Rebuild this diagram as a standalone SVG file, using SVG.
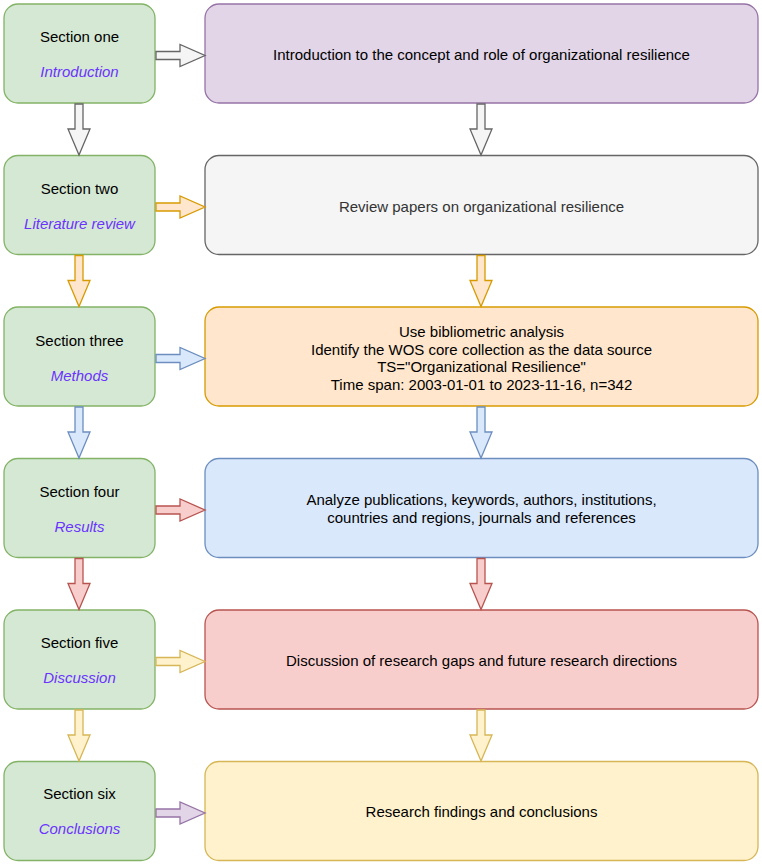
<svg xmlns="http://www.w3.org/2000/svg" width="762" height="864" viewBox="0 0 762 864">
<style>
text{font-family:"Liberation Sans",Arial,Helvetica,sans-serif;font-size:15px;text-anchor:middle;dominant-baseline:central;fill:#000}
.it{font-style:italic;fill:#6a33ff}
.box{stroke-width:1.3}
.g{fill:#d5e8d4;stroke:#82b366}
.pu{fill:#e1d5e7;stroke:#9673a6}
.gr{fill:#f5f5f5;stroke:#666666}
.or{fill:#ffe6cc;stroke:#d79b00}
.bl{fill:#dae8fc;stroke:#6c8ebf}
.re{fill:#f8cecc;stroke:#b85450}
.ye{fill:#fff2cc;stroke:#d6b656}
.arr{stroke-width:1.3;stroke-linejoin:miter}
</style>
<defs>
<polygon id="ha" points="156,-4 180,-4 180,-11 205,0 180,11 180,4 156,4"/>
<polygon id="vaL" points="75,0 83,0 83,25 90,25 79,51 68,25 75,25"/>
<polygon id="vaR" points="477,0 485,0 485,25 492,25 481,51 470,25 477,25"/>
</defs>
<g id="left-nodes">
<g id="s1"><rect class="box g" x="4" y="4" width="151" height="99" rx="14"/><text x="79.5" y="36">Section one</text><text class="it" x="79.5" y="71">Introduction</text></g>
<g id="s2"><rect class="box g" x="4" y="155.5" width="151" height="99" rx="14"/><text x="79.5" y="188">Section two</text><text class="it" x="79.5" y="223">Literature review</text></g>
<g id="s3"><rect class="box g" x="4" y="307" width="151" height="99" rx="14"/><text x="79.5" y="340">Section three</text><text class="it" x="79.5" y="375">Methods</text></g>
<g id="s4"><rect class="box g" x="4" y="458.5" width="151" height="99" rx="14"/><text x="79.5" y="491">Section four</text><text class="it" x="79.5" y="526">Results</text></g>
<g id="s5"><rect class="box g" x="4" y="610" width="151" height="99" rx="14"/><text x="79.5" y="642">Section five</text><text class="it" x="79.5" y="677">Discussion</text></g>
<g id="s6"><rect class="box g" x="4" y="761.5" width="151" height="99" rx="14"/><text x="79.5" y="793">Section six</text><text class="it" x="79.5" y="828">Conclusions</text></g>
</g>
<g id="right-nodes">
<g id="r1"><rect class="box pu" x="205" y="4" width="553" height="99" rx="14"/><text x="481.5" y="54">Introduction to the concept and role of organizational resilience</text></g>
<g id="r2"><rect class="box gr" x="205" y="155.5" width="553" height="99" rx="14"/><text x="481.5" y="206" style="fill:#333333">Review papers on organizational resilience</text></g>
<g id="r3"><rect class="box or" x="205" y="307" width="553" height="99" rx="14"/><text x="481.5" y="331">Use bibliometric analysis</text><text x="481.5" y="349">Identify the WOS core collection as the data source</text><text x="481.5" y="366.5">TS="Organizational Resilience"</text><text x="481.5" y="384">Time span: 2003-01-01 to 2023-11-16, n=342</text></g>
<g id="r4"><rect class="box bl" x="205" y="458.5" width="553" height="99" rx="14"/><text x="481.5" y="499">Analyze publications, keywords, authors, institutions,</text><text x="481.5" y="517">countries and regions, journals and references</text></g>
<g id="r5"><rect class="box re" x="205" y="610" width="553" height="99" rx="14"/><text x="481.5" y="660">Discussion of research gaps and future research directions</text></g>
<g id="r6"><rect class="box ye" x="205" y="761.5" width="553" height="99" rx="14"/><text x="481.5" y="811">Research findings and conclusions</text></g>
</g>
<g id="connectors">
<use href="#ha" class="arr gr" transform="translate(0,55.5)"/>
<use href="#ha" class="arr or" transform="translate(0,207)"/>
<use href="#ha" class="arr bl" transform="translate(0,358.5)"/>
<use href="#ha" class="arr re" transform="translate(0,510)"/>
<use href="#ha" class="arr ye" transform="translate(0,661.5)"/>
<use href="#ha" class="arr pu" transform="translate(0,813)"/>
<use href="#vaL" class="arr gr" transform="translate(0,104)"/>
<use href="#vaL" class="arr or" transform="translate(0,255.5)"/>
<use href="#vaL" class="arr bl" transform="translate(0,407)"/>
<use href="#vaL" class="arr re" transform="translate(0,558.5)"/>
<use href="#vaL" class="arr ye" transform="translate(0,710)"/>
<use href="#vaR" class="arr gr" transform="translate(0,104)"/>
<use href="#vaR" class="arr or" transform="translate(0,255.5)"/>
<use href="#vaR" class="arr bl" transform="translate(0,407)"/>
<use href="#vaR" class="arr re" transform="translate(0,558.5)"/>
<use href="#vaR" class="arr ye" transform="translate(0,710)"/>
</g>
</svg>
